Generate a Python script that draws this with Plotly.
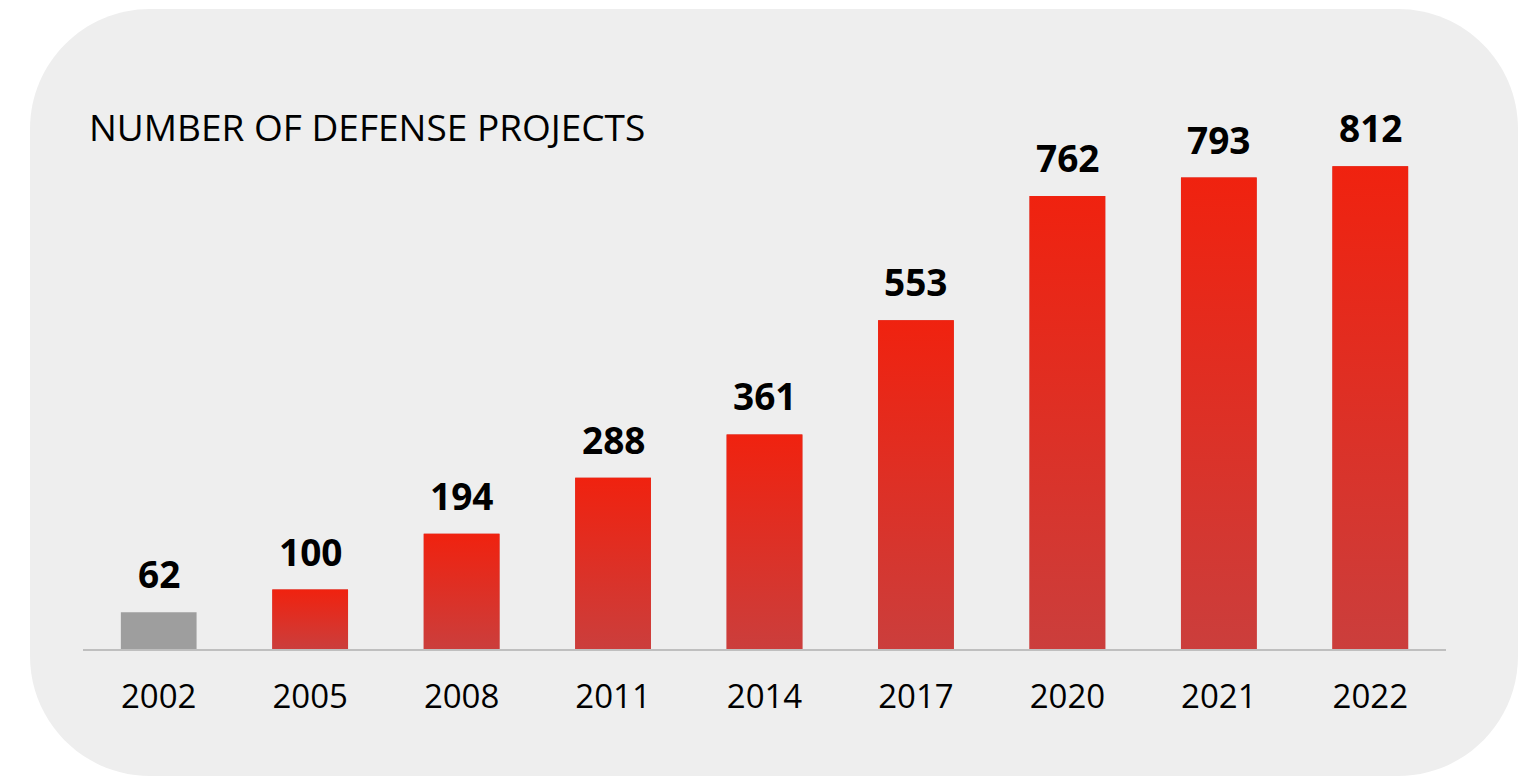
import plotly.graph_objects as go

# ---- data ----
years = ["2002", "2005", "2008", "2011", "2014", "2017", "2020", "2021", "2022"]
projects = [62, 100, 194, 288, 361, 553, 762, 793, 812]
title_text = "NUMBER OF DEFENSE PROJECTS"

# ---- style ----
GREY = "#9E9E9E"
RED_TOP = "#F0220F"
RED_BOTTOM = "#CB3E3C"
BG = "#EEEEEE"
FONT = "Open Sans"

OFF = 8  # page body margin offset
W, H = 1538, 777
ML, MT = 83 - OFF, 114 - OFF
PW, PH = 1363, 535
MR, MB = W - ML - PW, H - MT - PH
BAR_W = 0.5

idx = list(range(len(years)))
colors = [GREY] + [RED_BOTTOM] * (len(years) - 1)

fig = go.Figure()
fig.add_trace(go.Bar(x=idx, y=projects, width=BAR_W, marker=dict(color=colors, line=dict(width=0)),
                     hoverinfo="skip", showlegend=False))

# gradient overlay for each red bar (built from the same data)
for i, v in zip(idx, projects):
    if i == 0:
        continue
    xs = [i - BAR_W / 2, i + BAR_W / 2, i + BAR_W / 2, i - BAR_W / 2, i - BAR_W / 2]
    ys = [0, 0, v, v, 0]
    fig.add_trace(go.Scatter(
        x=xs, y=ys, mode="lines", fill="toself", line=dict(width=0),
        fillgradient=dict(type="vertical", colorscale=[[0, RED_BOTTOM], [1, RED_TOP]]),
        hoverinfo="skip", showlegend=False))

# value labels
for i, v in zip(idx, projects):
    fig.add_annotation(x=i, y=v, text=f"<b>{v}</b>", showarrow=False, yanchor="bottom",
                       yshift=11, font=dict(family=FONT, size=37, color="black"))


def px(x):
    return (x - OFF - ML) / PW


def py(y):
    return (H - MB - (y - OFF)) / PH


# title
fig.add_annotation(xref="paper", yref="paper", x=px(87), y=py(127),
                   xanchor="left", yanchor="middle", text=title_text, showarrow=False,
                   font=dict(family=FONT, size=37, color="black"))

# rounded background panel (page pixel -> paper coordinates)
L, R, T, B, RAD = 30, 1518, 9, 776, 120
k = 0.5523 * RAD
pts = [
    f"M {px(L + RAD)},{py(T)}",
    f"L {px(R - RAD)},{py(T)}",
    f"C {px(R - RAD + k)},{py(T)} {px(R)},{py(T + RAD - k)} {px(R)},{py(T + RAD)}",
    f"L {px(R)},{py(B - RAD)}",
    f"C {px(R)},{py(B - RAD + k)} {px(R - RAD + k)},{py(B)} {px(R - RAD)},{py(B)}",
    f"L {px(L + RAD)},{py(B)}",
    f"C {px(L + RAD - k)},{py(B)} {px(L)},{py(B - RAD + k)} {px(L)},{py(B - RAD)}",
    f"L {px(L)},{py(T + RAD)}",
    f"C {px(L)},{py(T + RAD - k)} {px(L + RAD - k)},{py(T)} {px(L + RAD)},{py(T)}",
    "Z",
]
fig.add_shape(type="path", xref="paper", yref="paper", path=" ".join(pts),
              fillcolor=BG, line=dict(width=0), layer="below")

fig.update_layout(
    width=W, height=H,
    margin=dict(l=ML, r=MR, t=MT, b=MB, pad=0),
    paper_bgcolor="white", plot_bgcolor="rgba(0,0,0,0)",
    showlegend=False,
    xaxis=dict(range=[-0.5, len(years) - 0.5], tickmode="array", tickvals=idx, ticktext=years,
               showgrid=False, zeroline=False, showline=True, linecolor="#BFBFBF", linewidth=2,
               ticks="", tickfont=dict(family=FONT, size=33, color="black"), ticklabelstandoff=17,
               fixedrange=True),
    yaxis=dict(range=[0, 900], visible=False, showgrid=False, zeroline=False, fixedrange=True),
    bargap=0.5,
)

fig.write_html("out.html")
